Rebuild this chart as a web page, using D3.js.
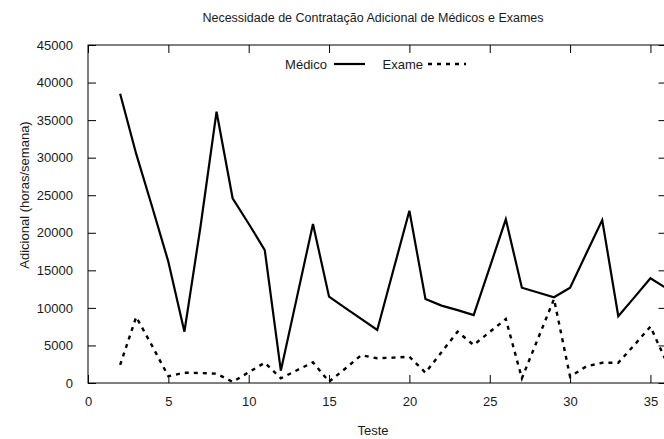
<!DOCTYPE html>
<meta charset="utf-8">
<script src="https://d3js.org/d3.v7.min.js"></script>
<style>
  body { margin: 0; background: #fff; }
  text { font-family: "Liberation Sans", Arial, sans-serif; fill: #1a1a1a; }
</style>
<div id="chart"></div>
<script>
// test number on the x axis
var testes = [2, 3, 4, 5, 6, 7, 8, 9, 10, 11, 12, 13, 14, 15, 16, 17, 18, 19,
              20, 21, 22, 23, 24, 25, 26, 27, 28, 29, 30, 31, 32, 33, 34, 35, 36];
var medico = [38500, 30500, 23400, 16150, 6830, 20800, 36120, 24590, 21200, 17700,
              1640, 11400, 21170, 11490, 10000, 8540, 7060, 15000, 22940, 11180,
              10300, 9700, 9050, 15400, 21790, 12690, 12050, 11410, 12690, 17200,
              21700, 8900, 11400, 13940, 12600];
var exame = [2400, 8800, 4900, 900, 1370, 1330, 1240, 150, 1430, 2700,
             620, 1700, 2750, 170, 1900, 3700, 3290, 3380, 3500, 1370,
             4100, 6830, 5060, 6800, 8520, 620, 5900, 11180, 840, 2200,
             2700, 2700, 5060, 7500, 2800];
var xTicks = [0, 5, 10, 15, 20, 25, 30, 35];
var yTicks = [0, 5000, 10000, 15000, 20000, 25000, 30000, 35000, 40000, 45000];

var W = 664, H = 439;
var margin = {top: 45, left: 88};
var width = 578.5, height = 338;

var svg = d3.select("#chart").append("svg")
    .attr("width", W).attr("height", H);

var g = svg.append("g")
    .attr("transform", "translate(" + margin.left + "," + margin.top + ")");

var x = d3.scaleLinear().domain([0, 36]).range([0, width]);
var y = d3.scaleLinear().domain([0, 45000]).range([height, 0]);

// axes, gnuplot style: ticks point inwards on all four sides
g.append("g")
    .attr("transform", "translate(0," + height + ")")
    .call(d3.axisBottom(x).tickValues(xTicks).tickSizeInner(-8).tickSizeOuter(0).tickPadding(14))
    .call(a => a.select(".domain").remove());
g.append("g")
    .call(d3.axisTop(x).tickValues(xTicks).tickSizeInner(-8).tickSizeOuter(0).tickFormat(""))
    .call(a => a.select(".domain").remove());
g.append("g")
    .call(d3.axisLeft(y).tickValues(yTicks).tickFormat(d3.format("d"))
      .tickSizeInner(-8).tickSizeOuter(0).tickPadding(15))
    .call(a => a.select(".domain").remove());
g.append("g")
    .attr("transform", "translate(" + width + ",0)")
    .call(d3.axisRight(y).tickValues(yTicks).tickSizeInner(-8).tickSizeOuter(0).tickFormat(""))
    .call(a => a.select(".domain").remove());

g.selectAll(".tick line").attr("stroke", "#000");
g.selectAll(".tick text")
    .style("font-size", "13px")
    .style("font-family", "'Liberation Sans', Arial, sans-serif")
    .attr("fill", "#1a1a1a");

g.append("rect")
    .attr("width", width).attr("height", height)
    .attr("fill", "none").attr("stroke", "#000").attr("stroke-width", 1);

// lines
var data = testes.map((t, i) => ({t: t, m: medico[i], e: exame[i]}));

g.append("path")
    .datum(data)
    .attr("fill", "none")
    .attr("stroke", "#000")
    .attr("stroke-width", 2.2)
    .attr("d", d3.line().x(d => x(d.t)).y(d => y(d.m)));

g.append("path")
    .datum(data)
    .attr("fill", "none")
    .attr("stroke", "#000")
    .attr("stroke-width", 2.4)
    .attr("stroke-dasharray", "4,5")
    .attr("d", d3.line().x(d => x(d.t)).y(d => y(d.e)));

// legend
svg.append("text").attr("x", 327).attr("y", 69)
    .attr("text-anchor", "end").style("font-size", "13px").text("Médico");
svg.append("line").attr("x1", 334).attr("x2", 365).attr("y1", 64).attr("y2", 64)
    .attr("stroke", "#000").attr("stroke-width", 2.2);
svg.append("text").attr("x", 423).attr("y", 69)
    .attr("text-anchor", "end").style("font-size", "13px").text("Exame");
svg.append("line").attr("x1", 428).attr("x2", 466).attr("y1", 64).attr("y2", 64)
    .attr("stroke", "#000").attr("stroke-width", 2.4).attr("stroke-dasharray", "4,5");

// titles
svg.append("text").attr("x", 373).attr("y", 22)
    .attr("text-anchor", "middle").style("font-size", "12.5px")
    .text("Necessidade de Contratação Adicional de Médicos e Exames");
svg.append("text").attr("x", 373).attr("y", 435)
    .attr("text-anchor", "middle").style("font-size", "13px").text("Teste");
svg.append("text")
    .attr("transform", "translate(29,195) rotate(-90)")
    .attr("text-anchor", "middle").style("font-size", "13px")
    .text("Adicional (horas/semana)");
</script>
